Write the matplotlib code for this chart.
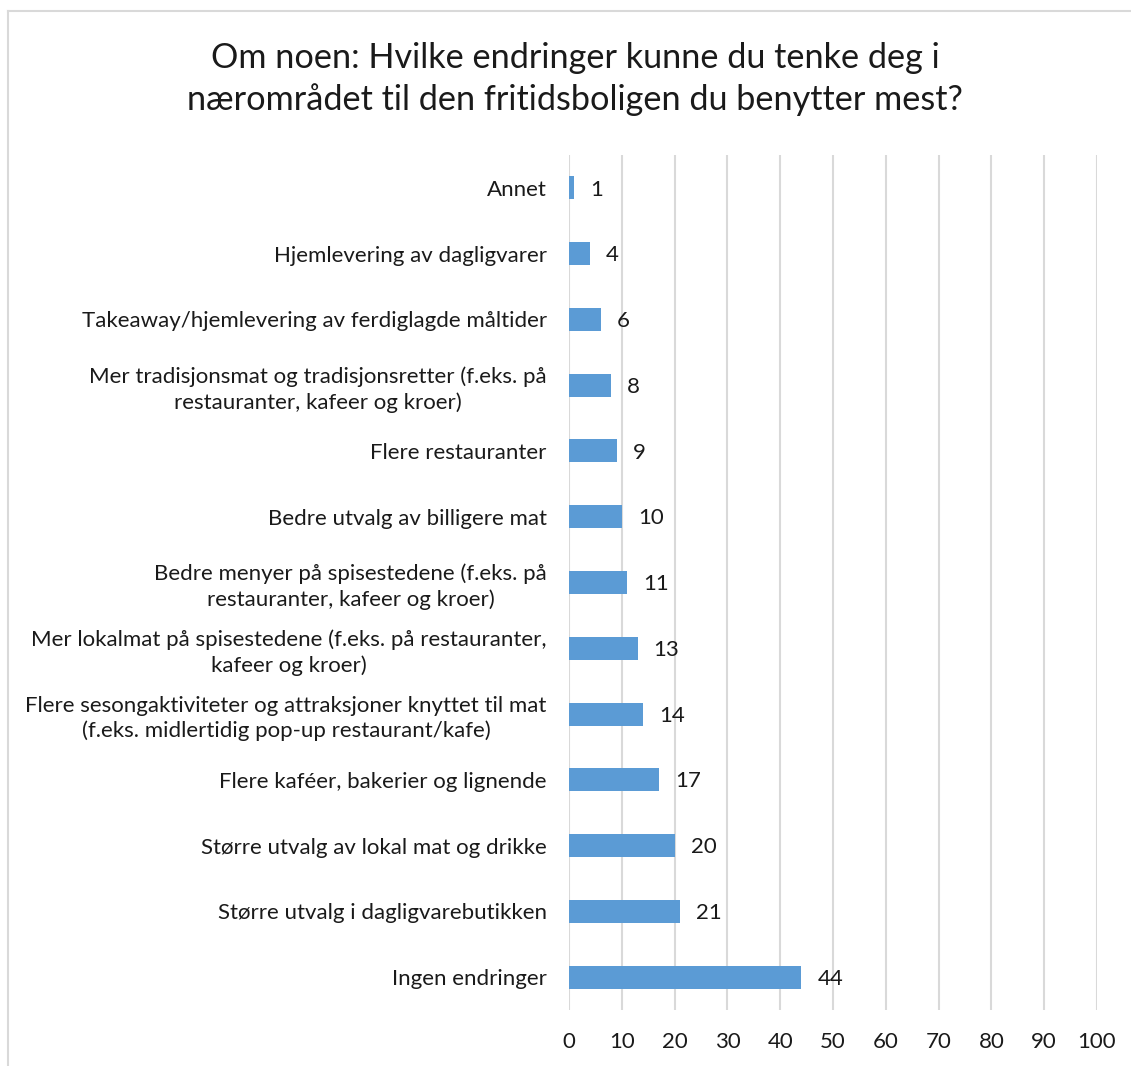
import matplotlib
matplotlib.use("Agg")
import matplotlib.pyplot as plt
from matplotlib.lines import Line2D

categories = [
    "Annet",
    "Hjemlevering av dagligvarer",
    "Takeaway/hjemlevering av ferdiglagde måltider",
    "Mer tradisjonsmat og tradisjonsretter (f.eks. på\nrestauranter, kafeer og kroer)",
    "Flere restauranter",
    "Bedre utvalg av billigere mat",
    "Bedre menyer på spisestedene (f.eks. på\nrestauranter, kafeer og kroer)",
    "Mer lokalmat på spisestedene (f.eks. på restauranter,\nkafeer og kroer)",
    "Flere sesongaktiviteter og attraksjoner knyttet til mat\n(f.eks. midlertidig pop-up restaurant/kafe)",
    "Flere kaféer, bakerier og lignende",
    "Større utvalg av lokal mat og drikke",
    "Større utvalg i dagligvarebutikken",
    "Ingen endringer",
]
values = [1, 4, 6, 8, 9, 10, 11, 13, 14, 17, 20, 21, 44]
x_ticks = [0, 10, 20, 30, 40, 50, 60, 70, 80, 90, 100]
title = "Om noen: Hvilke endringer kunne du tenke deg i\nnærområdet til den fritidsboligen du benytter mest?"

plt.rcParams["font.family"] = ["Lato", "DejaVu Sans"]

W, H = 1131, 1066
fig = plt.figure(figsize=(W / 100, H / 100), dpi=100)
ax = fig.add_axes([569 / W, 1 - 1010 / H, (1097 - 569) / W, (1010 - 155) / H])

bar_color = "#5B9BD5"
grid_color = "#D9D9D9"
text_color = "#1a1a1a"
fs = 16

ypos = list(range(len(categories)))
ax.barh(ypos, values, height=0.35, color=bar_color, zorder=3)
for y, v in zip(ypos, values):
    ax.annotate(str(v), xy=(v, y), xytext=(11.5, -1.2), textcoords="offset points",
                va="center", ha="left", fontsize=fs, color=text_color, zorder=4)

ax.set_xlim(0, 100)
ax.set_ylim(len(categories) - 0.5, -0.5)
ax.set_xticks(x_ticks)
ax.set_yticks(ypos)
ax.set_yticklabels(categories, fontsize=fs, color=text_color, ha="right",
                   multialignment="center", linespacing=1.3)
ax.tick_params(axis="x", length=0, pad=16, labelsize=fs, labelcolor=text_color)
ax.tick_params(axis="y", length=0, pad=16)
for s in ax.spines.values():
    s.set_visible(False)
ax.grid(axis="x", color=grid_color, linewidth=1.5, zorder=0)
ax.grid(axis="y", visible=False)
ax.set_axisbelow(True)

fig.text(575 / W, 1 - 79 / H, title, ha="center", va="center", fontsize=24.7,
         color=text_color, linespacing=1.36)

# outer frame (top and left edges)
fig.add_artist(Line2D([8 / W, 1.0], [1 - 11 / H, 1 - 11 / H], transform=fig.transFigure,
                      color="#D9D9D9", linewidth=1.5))
fig.add_artist(Line2D([8 / W, 8 / W], [0, 1 - 11 / H], transform=fig.transFigure,
                      color="#D9D9D9", linewidth=1.5))

fig.savefig("out.png", dpi=100, facecolor="white")
